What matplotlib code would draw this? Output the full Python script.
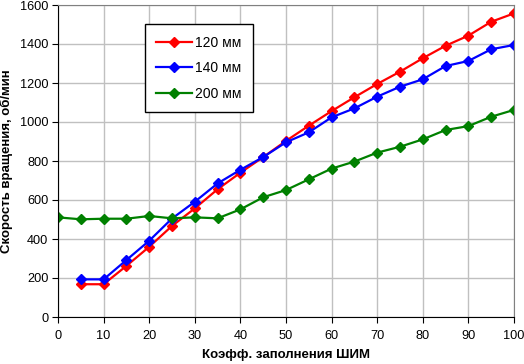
import numpy as np
import matplotlib
matplotlib.use('Agg')
import matplotlib.pyplot as plt

plt.rcParams['font.family'] = ['Liberation Sans', 'DejaVu Sans']

duty = [0, 5, 10, 15, 20, 25, 30, 35, 40, 45, 50, 55, 60, 65, 70, 75, 80, 85, 90, 95, 100]
duty_fan = duty[1:]

rpm_120 = [168, 168, 262, 360, 467, 557, 655, 740, 820, 903, 981, 1056, 1127, 1195, 1258, 1327, 1391, 1443, 1514, 1557]
rpm_140 = [193, 193, 292, 391, 505, 591, 685, 755, 820, 896, 947, 1024, 1070, 1130, 1181, 1219, 1287, 1313, 1373, 1395]
rpm_200 = [511, 501, 504, 504, 518, 506, 511, 506, 552, 614, 651, 706, 761, 797, 843, 873, 911, 959, 979, 1027, 1062]

fig = plt.figure(figsize=(5.24, 3.64), dpi=100)
ax = fig.add_axes([58/524, 47/364, 456/524, 312/364])

ax.plot(duty_fan, rpm_120, color='#ff0000', lw=1.6, marker='D', ms=5.5, label='120 мм')
ax.plot(duty_fan, rpm_140, color='#0000ff', lw=1.6, marker='D', ms=5.5, label='140 мм')
ax.plot(duty, rpm_200, color='#008000', lw=1.6, marker='D', ms=5.5, label='200 мм')

ax.set_xlim(0, 100)
ax.set_ylim(0, 1600)
ax.set_xticks(np.arange(0, 101, 10))
ax.set_yticks(np.arange(0, 1601, 200))
ax.grid(True, color='#c0c0c0', lw=1)
ax.set_axisbelow(True)
for s in ['top', 'right']:
    ax.spines[s].set_color('#808080')
for s in ['left', 'bottom']:
    ax.spines[s].set_color('black')
ax.tick_params(labelsize=9.2, length=4.5, direction='out')
ax.tick_params(axis='y', pad=2.5)
ax.tick_params(axis='x', pad=5)
ax.set_xlabel('Коэфф. заполнения ШИМ', fontsize=9.5, fontweight='bold', labelpad=5)
ax.set_ylabel('Скорость вращения, об/мин', fontsize=9.5, fontweight='bold', labelpad=5)

leg = ax.legend(loc='upper left', bbox_to_anchor=(0.176, 0.96), fontsize=10,
                fancybox=False, edgecolor='black', framealpha=1,
                handlelength=2.6, labelspacing=0.85, borderpad=0.8, handletextpad=0.2)
leg.get_frame().set_linewidth(1)

fig.savefig('out.png', dpi=100)
